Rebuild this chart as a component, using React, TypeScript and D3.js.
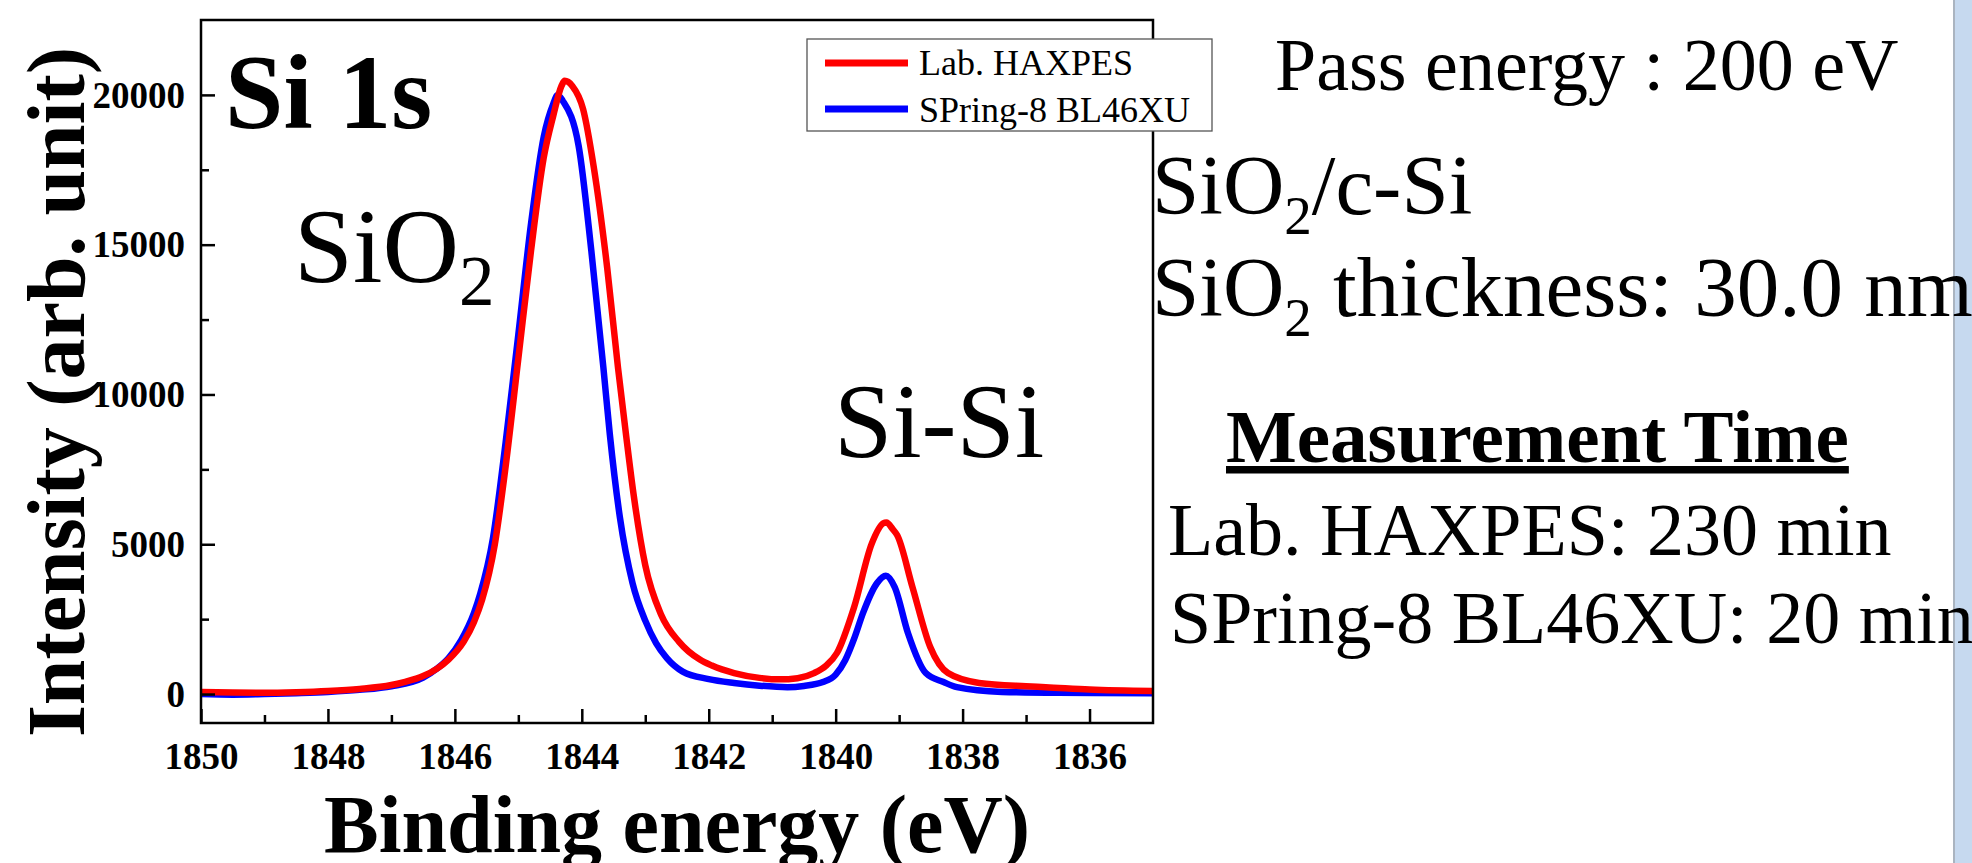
import React, { useRef, useEffect } from "react";
import * as d3 from "d3";

// Lab. HAXPES spectrum (binding energy in eV, intensity in arb. unit)
const labEnergy = [1850, 1849.5, 1849, 1848.5, 1848, 1847.5, 1847, 1846.8, 1846.5, 1846.28, 1846.1, 1845.86, 1845.7, 1845.57, 1845.37, 1845.2, 1845.0, 1844.8, 1844.6, 1844.45, 1844.32, 1844.27, 1844.15, 1843.98, 1843.81, 1843.6, 1843.43, 1843.3, 1843.18, 1843.0, 1842.75, 1842.47, 1842.14, 1841.95, 1841.6, 1841.2, 1840.89, 1840.6, 1840.34, 1840.15, 1839.98, 1839.71, 1839.43, 1839.25, 1839.2, 1839.1, 1839.03, 1838.79, 1838.51, 1838.23, 1837.74, 1837.0, 1836.69, 1836.0, 1835.0];
const labIntensity = [70, 50, 40, 60, 100, 170, 300, 400, 600, 850, 1150, 1750, 2400, 3150, 5000, 7600, 11200, 14800, 17900, 19300, 20300, 20470, 20300, 19530, 17570, 14230, 10900, 8600, 6600, 4300, 2650, 1750, 1150, 950, 700, 540, 490, 530, 700, 950, 1370, 2900, 5030, 5700, 5730, 5500, 5300, 3570, 1570, 700, 370, 260, 230, 150, 100];

// SPring-8 BL46XU spectrum
const spEnergy = [1850, 1849.5, 1849, 1848.5, 1848, 1847.5, 1847, 1846.5, 1846.28, 1846.1, 1845.9, 1845.7, 1845.6, 1845.4, 1845.2, 1845.0, 1844.8, 1844.6, 1844.45, 1844.38, 1844.3, 1844.05, 1843.85, 1843.66, 1843.56, 1843.4, 1843.2, 1843.0, 1842.83, 1842.66, 1842.41, 1842.0, 1841.6, 1841.2, 1840.76, 1840.5, 1840.2, 1840.0, 1839.85, 1839.7, 1839.57, 1839.35, 1839.21, 1839.07, 1838.86, 1838.58, 1838.3, 1838.09, 1837.38, 1836.5, 1835.0];
const spIntensity = [0, -20, 0, 30, 70, 140, 260, 550, 850, 1200, 1800, 2700, 3350, 5200, 8400, 12000, 15700, 18600, 19700, 20000, 19800, 18300, 14800, 10900, 8700, 5900, 3700, 2450, 1700, 1200, 750, 500, 370, 280, 230, 270, 400, 650, 1130, 1900, 2700, 3700, 3950, 3570, 2030, 700, 400, 230, 70, 40, 30];

const xMajor = [1850, 1848, 1846, 1844, 1842, 1840, 1838, 1836];
const xMinor = [1849, 1847, 1845, 1843, 1841, 1839, 1837];
const yMajor = [0, 5000, 10000, 15000, 20000];
const yMinor = [2500, 7500, 12500, 17500];

const seriesNames = ["Lab. HAXPES", "SPring-8 BL46XU"];
const seriesColors = ["#ff0000", "#0000ff"];

const serif = "'Liberation Serif', 'Times New Roman', serif";

const App = () => {
  const xAxisRef = useRef(null);
  const yAxisRef = useRef(null);

  const x = d3.scaleLinear().domain([1850, 1835]).range([201, 1153]);
  const y = d3.scaleLinear().domain([-1000, 22500]).range([724, 20]);

  const line = d3
    .line<[number, number]>()
    .x((d) => x(d[0]))
    .y((d) => y(d[1]))
    .curve(d3.curveMonotoneX);

  const labPts = labEnergy.map((e, i) => [e, labIntensity[i]] as [number, number]);
  const spPts = spEnergy.map((e, i) => [e, spIntensity[i]] as [number, number]);

  useEffect(() => {
    const gx = d3.select(xAxisRef.current);
    gx.selectAll("*").remove();
    gx.append("g").call(d3.axisBottom(x).tickValues(xMinor).tickSize(-8).tickFormat(() => ""));
    gx.append("g").call(d3.axisBottom(x).tickValues(xMajor).tickSize(-14).tickFormat(d3.format("d")));
    gx.selectAll(".domain").remove();
    gx.selectAll("line").attr("stroke", "#000").attr("stroke-width", 2.5);
    gx.selectAll("text")
      .attr("y", 46)
      .attr("dy", null)
      .attr("font-family", serif)
      .attr("font-weight", "bold")
      .attr("font-size", 37)
      .attr("fill", "#000");

    const gy = d3.select(yAxisRef.current);
    gy.selectAll("*").remove();
    gy.append("g").call(d3.axisLeft(y).tickValues(yMinor).tickSize(-8).tickFormat(() => ""));
    gy.append("g").call(d3.axisLeft(y).tickValues(yMajor).tickSize(-14).tickPadding(16).tickFormat(d3.format("d")));
    gy.selectAll(".domain").remove();
    gy.selectAll("line").attr("stroke", "#000").attr("stroke-width", 2.5);
    gy.selectAll("text")
      .attr("dy", "0.33em")
      .attr("font-family", serif)
      .attr("font-weight", "bold")
      .attr("font-size", 37)
      .attr("fill", "#000");
  });

  const [x0, x1] = x.range();
  const [yb, yt] = y.range();

  return (
    <svg
      width={1972}
      height={863}
      style={{ position: "absolute", left: 0, top: 0, background: "#fff" }}
      fontFamily={serif}
    >
      {/* slide edge on the right */}
      <rect x={1954} y={0} width={18} height={863} fill="#c6d9ef" />
      <line x1={1954} x2={1954} y1={0} y2={863} stroke="#aab4c0" strokeWidth={2} />

      <defs>
        <clipPath id="plotClip">
          <rect x={x0} y={yt} width={x1 - x0} height={yb - yt} />
        </clipPath>
      </defs>
      <g clipPath="url(#plotClip)">
        <path d={line(spPts) || ""} fill="none" stroke={seriesColors[1]} strokeWidth={6.5} strokeLinejoin="round" />
        <path d={line(labPts) || ""} fill="none" stroke={seriesColors[0]} strokeWidth={6.5} strokeLinejoin="round" />
      </g>

      <rect x={x0} y={yt} width={x1 - x0} height={yb - 1 - yt} fill="none" stroke="#000" strokeWidth={2.5} />
      <g ref={xAxisRef} transform={`translate(0,${yb - 1})`} />
      <g ref={yAxisRef} transform={`translate(${x0},0)`} />

      <text x={677} y={852} textAnchor="middle" fontSize={82} fontWeight="bold">
        Binding energy (eV)
      </text>
      <text transform="translate(84,392) rotate(-90)" textAnchor="middle" fontSize={82} fontWeight="bold">
        Intensity (arb. unit)
      </text>

      <text x={225} y={128} fontSize={105} fontWeight="bold">Si 1s</text>
      <text x={294} y={282} fontSize={106}>
        SiO<tspan fontSize={71} dy={23}>2</tspan>
      </text>
      <text x={834} y={457} fontSize={105}>Si-Si</text>

      {/* legend */}
      <rect x={807} y={39} width={405} height={92} fill="#fff" stroke="#555" strokeWidth={1.3} />
      {seriesNames.map((name, i) => (
        <g key={name}>
          <line x1={825} x2={908} y1={63 + i * 46} y2={63 + i * 46} stroke={seriesColors[i]} strokeWidth={7} />
          <text x={919} y={75 + i * 47} fontSize={36}>{name}</text>
        </g>
      ))}

      <text x={1275} y={90} fontSize={74}>Pass energy : 200 eV</text>
      <text x={1152} y={214} fontSize={85}>
        SiO<tspan fontSize={55} dy={20}>2</tspan>
        <tspan dy={-20}>/c-Si</tspan>
      </text>
      <text x={1152} y={316} fontSize={85}>
        SiO<tspan fontSize={55} dy={20}>2</tspan>
        <tspan dy={-20}> thickness: 30.0 nm</tspan>
      </text>
      <text x={1226} y={462} fontSize={75} fontWeight="bold" textDecoration="underline">
        Measurement Time
      </text>
      <text x={1168} y={555} fontSize={74}>Lab. HAXPES: 230 min</text>
      <text x={1170} y={643} fontSize={74}>SPring-8 BL46XU: 20 min</text>
    </svg>
  );
};

export default App;
